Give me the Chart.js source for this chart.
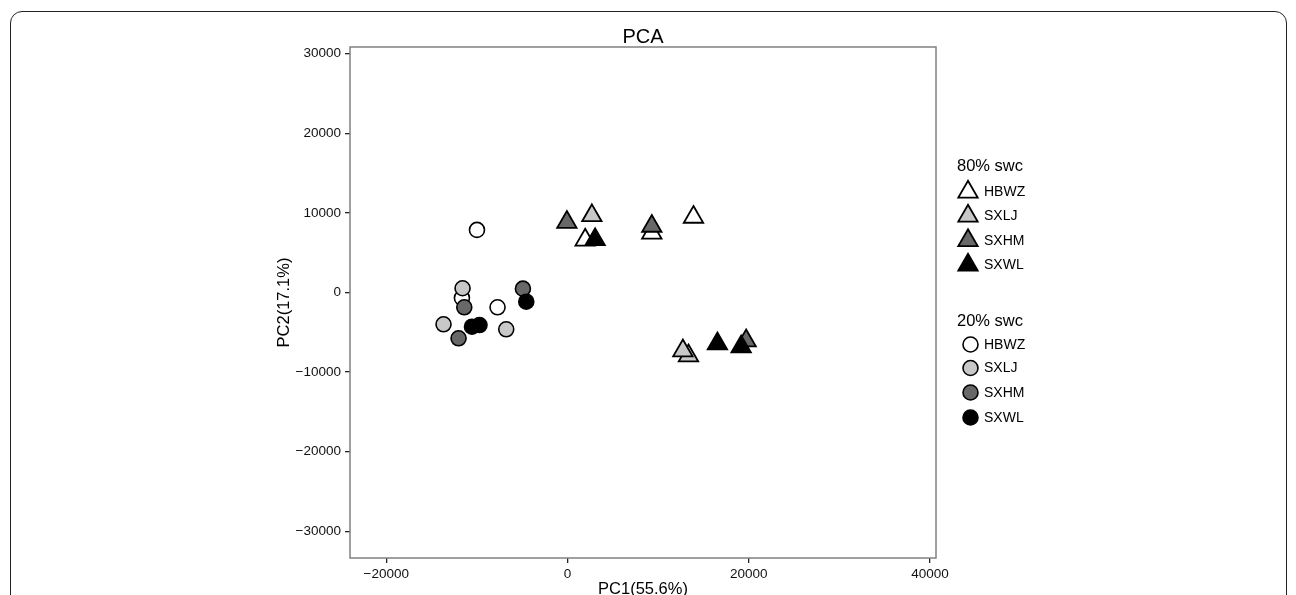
<!DOCTYPE html>
<html>
<head>
<meta charset="utf-8">
<title>PCA</title>
<script src="https://cdn.jsdelivr.net/npm/chart.js@4.4.0/dist/chart.umd.min.js"></script>
<style>
  html, body { margin: 0; padding: 0; background: #fff; overflow: hidden; }
  #wrap { position: relative; width: 1296px; height: 595px; overflow: hidden; }
  #frame { position: absolute; left: 10px; top: 11px; width: 1275px; height: 640px;
           border: 1px solid #222; border-radius: 12px; }
  #pca { position: absolute; left: 0; top: 0; }
</style>
</head>
<body>
<div id="wrap">
  <div id="frame"></div>
  <canvas id="pca" width="1296" height="620"></canvas>
</div>
<script>
// PCA scores, [PC1, PC2]
const groups = ['HBWZ', 'SXLJ', 'SXHM', 'SXWL'];

// 80% swc -> triangles
const tri_HBWZ = [[1950, 6600], [9300, 7480], [13900, 9460]];
const tri_SXLJ = [[2690, 9660], [13350, -7950], [12730, -7320]];
const tri_SXHM = [[-70, 8830], [9300, 8330], [19710, -6060]];
const tri_SXWL = [[3050, 6640], [16540, -6440], [19160, -6820]];

// 20% swc -> circles
const dot_HBWZ = [[-9990, 7860], [-11650, -690], [-7720, -1860]];
const dot_SXLJ = [[-11580, 530], [-13680, -4000], [-6760, -4630]];
const dot_SXHM = [[-11390, -1860], [-12020, -5760], [-4920, 480]];
const dot_SXWL = [[-10540, -4300], [-9710, -4090], [-4550, -1160]];

const xTicks = [-20000, 0, 20000, 40000];
const yTicks = [-30000, -20000, -10000, 0, 10000, 20000, 30000];
const legendTitles = ['80% swc', '20% swc'];

// styling
const FONT = '"Liberation Sans", Arial, Helvetica, sans-serif';
const fills = ['#ffffff', '#c8c8c8', '#686868', '#000000'];
const TRI_R = 11.2, DOT_R = 7.5;

Chart.defaults.font.family = FONT;

const toXY = arr => arr.map(([x, y]) => ({ x, y }));
const fmt = v => (v < 0 ? '\u2212' + Math.abs(v) : String(v));

const triSets = [tri_HBWZ, tri_SXLJ, tri_SXHM, tri_SXWL];
const dotSets = [dot_HBWZ, dot_SXLJ, dot_SXHM, dot_SXWL];

const datasets = [];
groups.forEach((g, i) => {
  datasets.push({
    label: '80% swc ' + g,
    data: toXY(triSets[i]),
    pointStyle: 'triangle',
    pointRadius: TRI_R,
    backgroundColor: fills[i],
    borderColor: '#000',
    borderWidth: 1.8,
    order: 4 - i
  });
  datasets.push({
    label: '20% swc ' + g,
    data: toXY(dotSets[i]),
    pointStyle: 'circle',
    pointRadius: DOT_R,
    backgroundColor: fills[i],
    borderColor: '#000',
    borderWidth: 1.6,
    order: 4 - i
  });
});

function marker(ctx, style, x, y, r) {
  ctx.beginPath();
  if (style === 'triangle') {
    ctx.moveTo(x, y - r);
    ctx.lineTo(x + r * Math.sqrt(3) / 2, y + r / 2);
    ctx.lineTo(x - r * Math.sqrt(3) / 2, y + r / 2);
    ctx.closePath();
  } else {
    ctx.arc(x, y, r, 0, Math.PI * 2);
  }
  ctx.fill();
  ctx.stroke();
}

// grey box round the panel
const panelBox = {
  id: 'panelBox',
  beforeDatasetsDraw(chart) {
    const { ctx, chartArea: a } = chart;
    ctx.save();
    ctx.strokeStyle = '#808080';
    ctx.lineWidth = 1.5;
    ctx.strokeRect(a.left, a.top, a.right - a.left, a.bottom - a.top);
    ctx.restore();
  }
};

// two-block legend on the right, like ggplot's
const sideLegend = {
  id: 'sideLegend',
  afterDraw(chart) {
    const ctx = chart.ctx;
    const blocks = [
      { title: legendTitles[0], style: 'triangle', r: TRI_R, mx: 968, ty: 166, ys: [192, 216, 240.5, 265] },
      { title: legendTitles[1], style: 'circle', r: DOT_R, mx: 970.5, ty: 321, ys: [344.5, 368, 392.5, 417.5] }
    ];
    ctx.save();
    ctx.textBaseline = 'middle';
    ctx.textAlign = 'left';
    blocks.forEach(b => {
      ctx.fillStyle = '#000';
      ctx.font = '16.5px ' + FONT;
      ctx.fillText(b.title, 957, b.ty);
      groups.forEach((g, i) => {
        ctx.fillStyle = fills[i];
        ctx.strokeStyle = '#000';
        ctx.lineWidth = b.style === 'triangle' ? 1.8 : 1.6;
        marker(ctx, b.style, b.mx, b.ys[i], b.r);
        ctx.fillStyle = '#000';
        ctx.font = '14px ' + FONT;
        ctx.fillText(g, 984, b.ys[i] + 0.5);
      });
    });
    ctx.restore();
  }
};

const tickFont = { size: 13.5 };

new Chart(document.getElementById('pca').getContext('2d'), {
  type: 'scatter',
  data: { datasets },
  plugins: [panelBox, sideLegend],
  options: {
    responsive: false,
    animation: false,
    devicePixelRatio: 1,
    layout: { padding: { left: 276, right: 360, top: 0, bottom: 0 } },
    plugins: {
      legend: { display: false },
      tooltip: { enabled: false },
      title: {
        display: true,
        text: 'PCA',
        fullSize: false,
        color: '#000',
        font: { size: 20, weight: 'normal', lineHeight: 1 },
        padding: { top: 27, bottom: 0 }
      }
    },
    scales: {
      x: {
        type: 'linear',
        min: -24000,
        max: 40660,
        afterBuildTicks: s => { s.ticks = xTicks.map(v => ({ value: v })); },
        afterFit: s => { s.height = 62; },
        ticks: { color: '#111', font: tickFont, padding: 3, maxRotation: 0, callback: fmt },
        grid: { drawOnChartArea: false, drawTicks: true, tickLength: 5, color: '#222', lineWidth: 1.3 },
        border: { display: false },
        title: {
          display: true, text: 'PC1(55.6%)', color: '#000',
          font: { size: 16.5, lineHeight: 1 }, padding: { top: 0, bottom: 22 }
        }
      },
      y: {
        type: 'linear',
        min: -33360,
        max: 30840,
        afterBuildTicks: s => { s.ticks = yTicks.map(v => ({ value: v })); },
        afterFit: s => { s.width = 74; },
        ticks: { color: '#111', font: tickFont, padding: 4, callback: fmt },
        grid: { drawOnChartArea: false, drawTicks: true, tickLength: 5, color: '#222', lineWidth: 1.3 },
        border: { display: false },
        title: {
          display: true, text: 'PC2(17.1%)', color: '#000',
          font: { size: 16.5, lineHeight: 1 }, padding: { top: 0, bottom: 0 }
        }
      }
    }
  }
});
</script>
</body>
</html>
